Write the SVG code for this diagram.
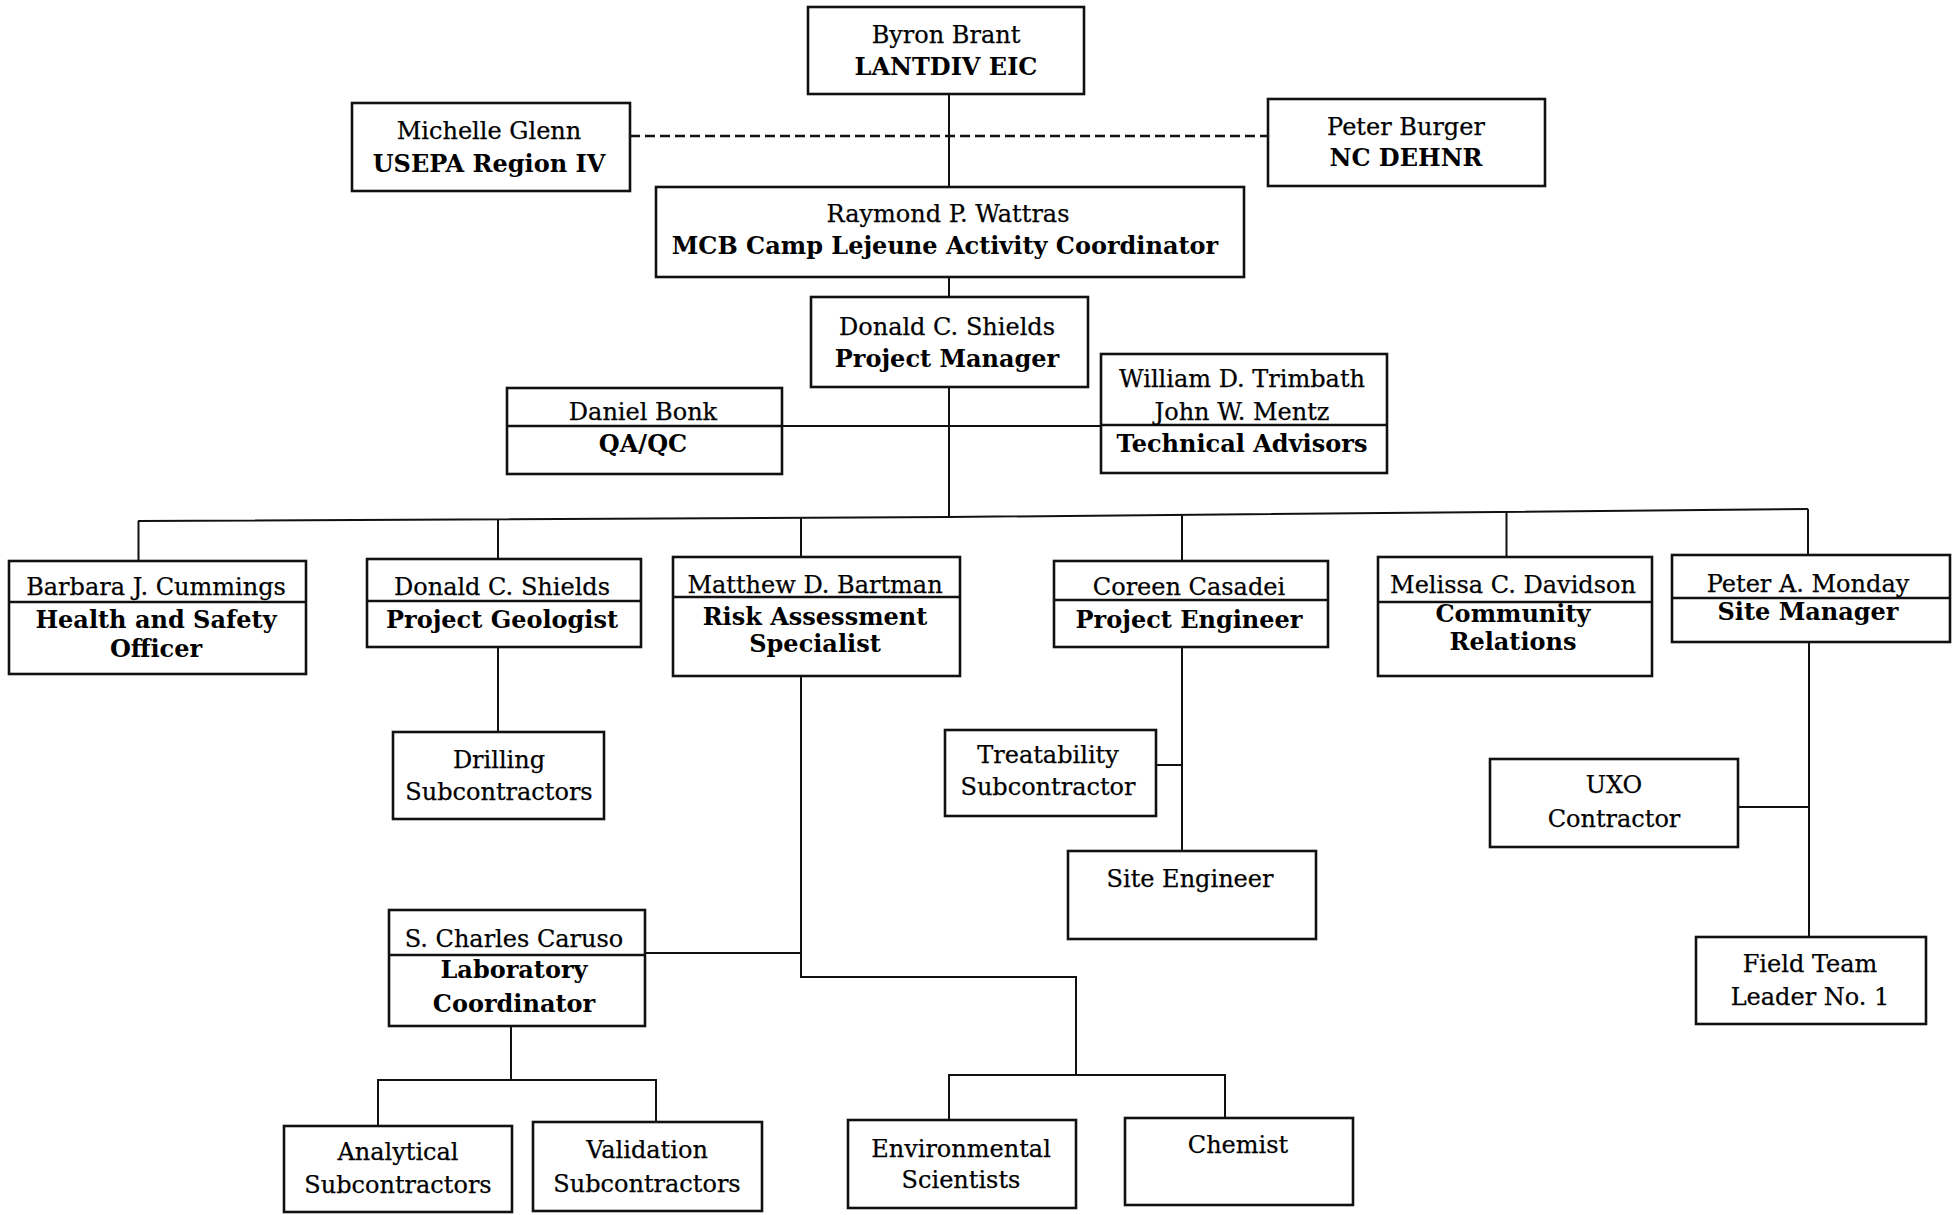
<svg xmlns="http://www.w3.org/2000/svg" width="1954" height="1215" viewBox="0 0 1954 1215">
<style>
rect.box{fill:#fff;stroke:#111;stroke-width:2.6}
.div{stroke:#111;stroke-width:2.6}
.c{fill:none;stroke:#111;stroke-width:2}
.dash{fill:none;stroke:#111;stroke-width:2.6;stroke-dasharray:10 5}
text{font-family:"DejaVu Serif","Liberation Serif",serif;font-size:24px;fill:#000;text-anchor:middle;stroke:#000;stroke-width:0.25}
text.b{font-weight:bold;font-size:24px;stroke-width:0}
</style>
<rect width="1954" height="1215" fill="#fff"/>
<g id="connectors">
<path class="dash" d="M630 136H1268"/>
<path class="c" d="M949 94V187M949 277V297M949 387V517"/>
<path class="c" d="M782 426H1100"/>
<polyline class="c" points="138,521 949,517 1808,509"/>
<path class="c" d="M138.5 521V561M498 519V559M801 518V557M1182 515V561M1506.5 512V557M1808 509V555"/>
<path class="c" d="M498 647V732"/>
<path class="c" d="M1182 647V851M1156 765H1182"/>
<path class="c" d="M1809 642V937M1738 807H1809"/>
<path class="c" d="M801 676V977H1076V1075M645 953H801"/>
<path class="c" d="M949 1120V1075H1225V1118"/>
<path class="c" d="M511 1026V1080M378 1126V1080H656V1122"/>
</g>
<g id="byron"><rect class="box" x="808" y="7" width="276" height="87"/><text x="946" y="43">Byron Brant</text><text class="b" x="946" y="75">LANTDIV EIC</text></g>
<g id="michelle"><rect class="box" x="352" y="103" width="278" height="88"/><text x="489" y="139">Michelle Glenn</text><text class="b" x="489" y="172">USEPA Region IV</text></g>
<g id="burger"><rect class="box" x="1268" y="99" width="277" height="87"/><text x="1406" y="135">Peter Burger</text><text class="b" x="1406" y="166">NC DEHNR</text></g>
<g id="wattras"><rect class="box" x="656" y="187" width="588" height="90"/><text x="948" y="222">Raymond P. Wattras</text><text class="b" x="945" y="254">MCB Camp Lejeune Activity Coordinator</text></g>
<g id="pm"><rect class="box" x="811" y="297" width="277" height="90"/><text x="947" y="335">Donald C. Shields</text><text class="b" x="947" y="367">Project Manager</text></g>
<g id="bonk"><rect class="box" x="507" y="388" width="275" height="86"/><line class="div" x1="507" y1="426" x2="782" y2="426"/><text x="643" y="420">Daniel Bonk</text><text class="b" x="643" y="452">QA/QC</text></g>
<g id="advisors"><rect class="box" x="1101" y="354" width="286" height="119"/><line class="div" x1="1101" y1="425" x2="1387" y2="425"/><text x="1242" y="387">William D. Trimbath</text><text x="1242" y="420">John W. Mentz</text><text class="b" x="1242" y="452">Technical Advisors</text></g>
<g id="cummings"><rect class="box" x="9" y="561" width="297" height="113"/><line class="div" x1="9" y1="602" x2="306" y2="602"/><text x="156" y="595">Barbara J. Cummings</text><text class="b" x="156" y="628">Health and Safety</text><text class="b" x="156" y="657">Officer</text></g>
<g id="geologist"><rect class="box" x="367" y="559" width="274" height="88"/><line class="div" x1="367" y1="601" x2="641" y2="601"/><text x="502" y="595">Donald C. Shields</text><text class="b" x="502" y="628">Project Geologist</text></g>
<g id="bartman"><rect class="box" x="673" y="557" width="287" height="119"/><line class="div" x1="673" y1="597" x2="960" y2="597"/><text x="815" y="593">Matthew D. Bartman</text><text class="b" x="815" y="625">Risk Assessment</text><text class="b" x="815" y="652">Specialist</text></g>
<g id="casadei"><rect class="box" x="1054" y="561" width="274" height="86"/><line class="div" x1="1054" y1="600" x2="1328" y2="600"/><text x="1189" y="595">Coreen Casadei</text><text class="b" x="1189" y="628">Project Engineer</text></g>
<g id="davidson"><rect class="box" x="1378" y="557" width="274" height="119"/><line class="div" x1="1378" y1="602" x2="1652" y2="602"/><text x="1513" y="593">Melissa C. Davidson</text><text class="b" x="1513" y="622">Community</text><text class="b" x="1513" y="650">Relations</text></g>
<g id="monday"><rect class="box" x="1672" y="555" width="278" height="87"/><line class="div" x1="1672" y1="598" x2="1950" y2="598"/><text x="1808" y="592">Peter A. Monday</text><text class="b" x="1808" y="620">Site Manager</text></g>
<g id="drilling"><rect class="box" x="393" y="732" width="211" height="87"/><text x="499" y="768">Drilling</text><text x="499" y="800">Subcontractors</text></g>
<g id="treatability"><rect class="box" x="945" y="730" width="211" height="86"/><text x="1048" y="763">Treatability</text><text x="1048" y="795">Subcontractor</text></g>
<g id="site-engineer"><rect class="box" x="1068" y="851" width="248" height="88"/><text x="1190" y="887">Site Engineer</text></g>
<g id="uxo"><rect class="box" x="1490" y="759" width="248" height="88"/><text x="1614" y="793">UXO</text><text x="1614" y="827">Contractor</text></g>
<g id="field-team"><rect class="box" x="1696" y="937" width="230" height="87"/><text x="1810" y="972">Field Team</text><text x="1810" y="1005">Leader No. 1</text></g>
<g id="caruso"><rect class="box" x="389" y="910" width="256" height="116"/><line class="div" x1="389" y1="955" x2="645" y2="955"/><text x="514" y="947">S. Charles Caruso</text><text class="b" x="514" y="978">Laboratory</text><text class="b" x="514" y="1012">Coordinator</text></g>
<g id="analytical"><rect class="box" x="284" y="1126" width="228" height="86"/><text x="398" y="1160">Analytical</text><text x="398" y="1193">Subcontractors</text></g>
<g id="validation"><rect class="box" x="533" y="1122" width="229" height="89"/><text x="647" y="1158">Validation</text><text x="647" y="1192">Subcontractors</text></g>
<g id="env-scientists"><rect class="box" x="848" y="1120" width="228" height="88"/><text x="961" y="1157">Environmental</text><text x="961" y="1188">Scientists</text></g>
<g id="chemist"><rect class="box" x="1125" y="1118" width="228" height="87"/><text x="1238" y="1153">Chemist</text></g>
</svg>
